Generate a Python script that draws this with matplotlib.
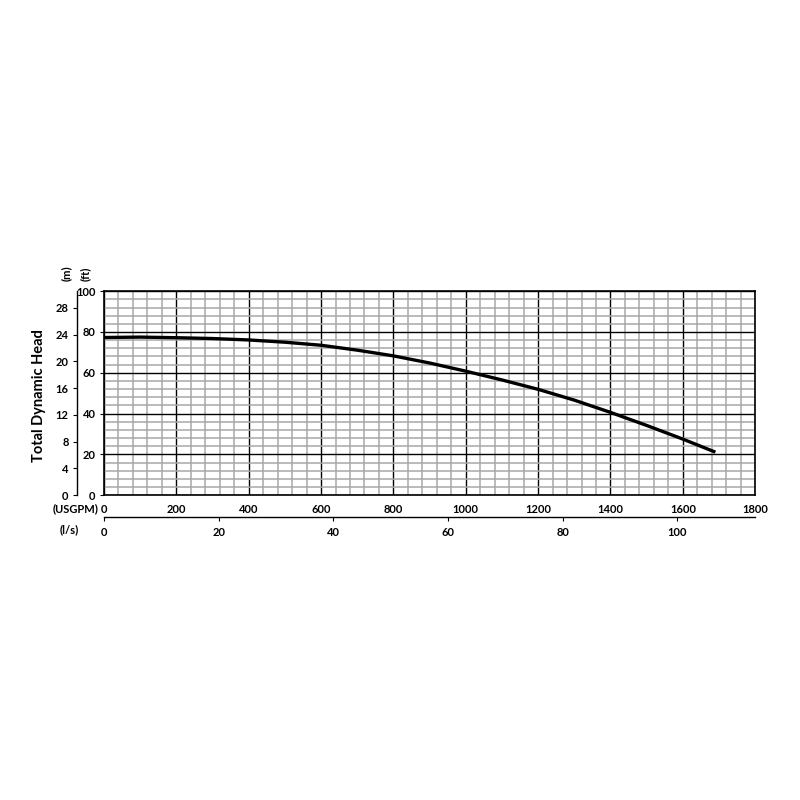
import matplotlib
matplotlib.use("Agg")
import matplotlib.pyplot as plt
import numpy as np

plt.rcParams['font.family'] = ['Lato', 'DejaVu Sans']
plt.rcParams['font.weight'] = 'bold'

# pump curve (flow in USGPM, head in ft)
flow_usgpm = [0, 100, 200, 300, 400, 500, 600, 700, 800, 900, 1000, 1100, 1200, 1300, 1400, 1500, 1600, 1690]
head_ft = [77.3, 77.5, 77.2, 76.8, 76.1, 75.0, 73.5, 71.1, 68.3, 64.8, 60.8, 56.5, 51.9, 46.6, 40.6, 34.2, 27.5, 21.1]

usgpm_ticks = [0, 200, 400, 600, 800, 1000, 1200, 1400, 1600, 1800]
ft_ticks = [0, 20, 40, 60, 80, 100]
m_ticks = [0, 4, 8, 12, 16, 20, 24, 28]
ls_ticks = [0, 20, 40, 60, 80, 100]

FT_PER_M = 1 / 0.3048
USGPM_PER_LS = 15.85

fig = plt.figure(figsize=(8, 8), dpi=100)
ax = fig.add_axes([0.13, 0.381, 0.814, 0.255])

ax.set_xlim(0, 1800)
ax.set_ylim(0, 100)
ax.set_xticks(usgpm_ticks)
ax.set_yticks(ft_ticks)
ax.set_xticks(np.arange(0, 1801, 40), minor=True)
ax.set_yticks(np.arange(0, 101, 4), minor=True)
ax.grid(which='minor', color='#a8a8a8', lw=1.1)
ax.grid(which='major', color='black', lw=1.0)
ax.tick_params(which='minor', length=0)
ax.tick_params(axis='x', which='major', length=0, pad=6, labelsize=8)
ax.tick_params(axis='y', which='major', length=3, pad=3, labelsize=8)
for s in ax.spines.values():
    s.set_linewidth(1.2)
ax.set_axisbelow(True)

ax.plot(flow_usgpm, head_ft, color='black', lw=2.4, solid_capstyle='butt')

# metres axis on the left
ax_m = ax.twinx()
ax_m.set_ylim(0, 100 / FT_PER_M)
ax_m.set_yticks(m_ticks)
ax_m.yaxis.tick_left()
ax_m.spines['right'].set_visible(False)
ax_m.spines['top'].set_visible(False)
ax_m.spines['bottom'].set_visible(False)
ax_m.spines['left'].set_position(('outward', 19.5))
ax_m.spines['left'].set_linewidth(1.0)
ax_m.tick_params(axis='y', length=3, pad=3, labelsize=8)

# l/s axis below
ax_l = ax.twiny()
ax_l.set_xlim(0, 1800 / USGPM_PER_LS)
ax_l.set_xticks(ls_ticks)
ax_l.xaxis.tick_bottom()
for k in ['top', 'left', 'right']:
    ax_l.spines[k].set_visible(False)
ax_l.spines['bottom'].set_position(('outward', 16))
ax_l.spines['bottom'].set_linewidth(1.0)
ax_l.tick_params(axis='x', length=3, pad=4, labelsize=8)

fig.text(0.0485, 0.506, 'Total Dynamic Head', rotation=90, ha='center', va='center',
         fontsize=10.5, fontweight='bold')
fig.text(0.083, 0.658, '(m)', rotation=90, ha='center', va='center', fontsize=8, fontweight='bold')
fig.text(0.107, 0.658, '(ft)', rotation=90, ha='center', va='center', fontsize=8, fontweight='bold')
fig.text(0.094, 0.364, '(USGPM)', ha='center', va='center', fontsize=8, fontweight='bold')
fig.text(0.086, 0.338, '(l/s)', ha='center', va='center', fontsize=8, fontweight='bold')

fig.savefig('out.png', dpi=100, facecolor='white')
